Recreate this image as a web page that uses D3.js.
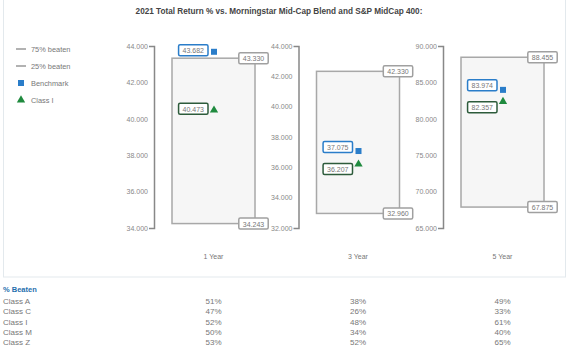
<!DOCTYPE html>
<html><head><meta charset="utf-8">
<script src="https://cdn.jsdelivr.net/npm/d3@7"></script>
<style>
body{margin:0;background:#fff;}
text{font-family:"Liberation Sans",Arial,sans-serif;}
</style></head>
<body><svg id="c" width="569" height="354"></svg>
<script>
const title = "2021 Total Return % vs. Morningstar Mid-Cap Blend and S&P MidCap 400:";
const categories = ["1 Year", "3 Year", "5 Year"];
const beaten75 = [43.330, 42.330, 88.455];
const beaten25 = [34.243, 32.960, 67.875];
const benchmark = [43.682, 37.075, 83.974];
const classI = [40.473, 36.207, 82.357];
const axisDomains = [[34, 44], [32, 44], [65, 90]];
const axisTicks = [[34, 36, 38, 40, 42, 44], [32, 34, 36, 38, 40, 42, 44], [65, 70, 75, 80, 85, 90]];
const legendItems = ["75% beaten", "25% beaten", "Benchmark", "Class I"];
const tableTitle = "% Beaten";
const shareClasses = ["Class A", "Class C", "Class I", "Class M", "Class Z"];
const beaten1Y = [51, 47, 52, 50, 53];
const beaten3Y = [38, 26, 48, 34, 52];
const beaten5Y = [49, 33, 61, 40, 65];

const svg = d3.select("#c");
const fmt = d3.format(".3f");
const blue = "#2a7dc9", green = "#1f8a3e", darkGreen = "#2d5b3b", gray = "#a8a8a8";

// panel frame
svg.append("rect").attr("x", 3.5).attr("y", -2).attr("width", 562).attr("height", 279)
  .attr("fill", "none").attr("stroke", "#e3e9ed").attr("stroke-width", 1);

svg.append("text").attr("x", 279).attr("y", 14).attr("text-anchor", "middle")
  .attr("font-size", 8.2).attr("font-weight", "bold").attr("fill", "#444").text(title);

const xC = d3.scalePoint().domain(categories).range([213.5, 502.5]);
const yRange = [228, 46];

categories.forEach((cat, i) => {
  const cx = xC(cat);
  const y = d3.scaleLinear().domain(axisDomains[i]).range(yRange);
  const ax = cx - 59.5;
  const g = svg.append("g").attr("transform", `translate(${ax},0)`)
    .call(d3.axisLeft(y).tickValues(axisTicks[i]).tickFormat(fmt).tickSizeInner(0).tickSizeOuter(5).tickPadding(6));
  g.select(".domain").attr("stroke", "#888").attr("stroke-width", 1.5);
  g.selectAll("text").attr("font-size", 7).attr("fill", "#888").attr("font-family", "Liberation Sans, Arial, sans-serif");

  // box
  const x0 = cx - 41.5, x1 = cx + 41.5;
  svg.append("rect").attr("x", x0).attr("y", y(beaten75[i])).attr("width", x1 - x0)
    .attr("height", y(beaten25[i]) - y(beaten75[i]))
    .attr("fill", "#f6f6f6").attr("stroke", gray).attr("stroke-width", 1.5);

  function label(xc, yc, txt, stroke, anchor) {
    const t = svg.append("text").attr("font-size", 7).attr("fill", "#777").text(txt)
      .attr("dominant-baseline", "central");
    const w = t.node().getComputedTextLength() + 8, h = 11;
    let lx = anchor === "right" ? xc - w : xc - w / 2;
    svg.insert("rect", () => t.node()).attr("x", lx).attr("y", yc - h / 2).attr("width", w).attr("height", h)
      .attr("rx", 1.5).attr("fill", "#fff").attr("stroke", stroke).attr("stroke-width", 1.5);
    t.attr("x", lx + w / 2).attr("y", yc + 0.5).attr("text-anchor", "middle");
  }
  label(x1 - 1.5, y(beaten75[i]), fmt(beaten75[i]), "#a0a0a0", "center");
  label(x1 - 1.5, y(beaten25[i]), fmt(beaten25[i]), "#a0a0a0", "center");

  // markers
  const mx = cx + 0.5;
  const yb = y(benchmark[i]), yi = y(classI[i]);
  let lb = yb - 1.5, li = yi - 1.5;
  if (Math.abs(lb - li) < 22) {
    const mid = (lb + li) / 2 + 2;
    if (lb < li) { lb = mid - 11; li = mid + 11; } else { lb = mid + 11; li = mid - 11; }
  }
  label(mx - 6, lb, fmt(benchmark[i]), blue, "right");
  label(mx - 6, li, fmt(classI[i]), darkGreen, "right");
  svg.append("rect").attr("x", mx - 3).attr("y", yb - 3).attr("width", 6).attr("height", 6).attr("fill", blue);
  svg.append("path").attr("d", d3.symbol(d3.symbolTriangle, 30)()).attr("transform", `translate(${mx},${yi})`).attr("fill", green);

  svg.append("text").attr("x", cx).attr("y", 259).attr("text-anchor", "middle")
    .attr("font-size", 7).attr("fill", "#777").text(cat);
});

// legend
const ly = d3.scalePoint().domain(legendItems).range([49, 100]);
legendItems.forEach((d, k) => {
  const yy = ly(d);
  if (k < 2) svg.append("line").attr("x1", 16).attr("x2", 26).attr("y1", yy).attr("y2", yy).attr("stroke", "#999").attr("stroke-width", 1.5);
  else if (k === 2) svg.append("rect").attr("x", 18).attr("y", yy - 3).attr("width", 6).attr("height", 6).attr("fill", blue);
  else svg.append("path").attr("d", d3.symbol(d3.symbolTriangle, 30)()).attr("transform", `translate(21,${yy})`).attr("fill", green);
  svg.append("text").attr("x", 31).attr("y", yy).attr("dominant-baseline", "central")
    .attr("font-size", 7.4).attr("fill", "#777").text(d);
});

// table
svg.append("text").attr("x", 3).attr("y", 292).attr("font-size", 7.5).attr("font-weight", "bold")
  .attr("fill", "#1f6fae").text(tableTitle);
const ry = d3.scalePoint().domain(shareClasses).range([304, 345]);
const cols = [beaten1Y, beaten3Y, beaten5Y];
shareClasses.forEach((c, r) => {
  svg.append("text").attr("x", 3).attr("y", ry(c)).attr("font-size", 8).attr("fill", "#777").text(c);
  cols.forEach((col, j) => {
    svg.append("text").attr("x", xC(categories[j])).attr("y", ry(c)).attr("text-anchor", "middle")
      .attr("font-size", 8).attr("fill", "#777").text(col[r] + "%");
  });
});
</script></body></html>
